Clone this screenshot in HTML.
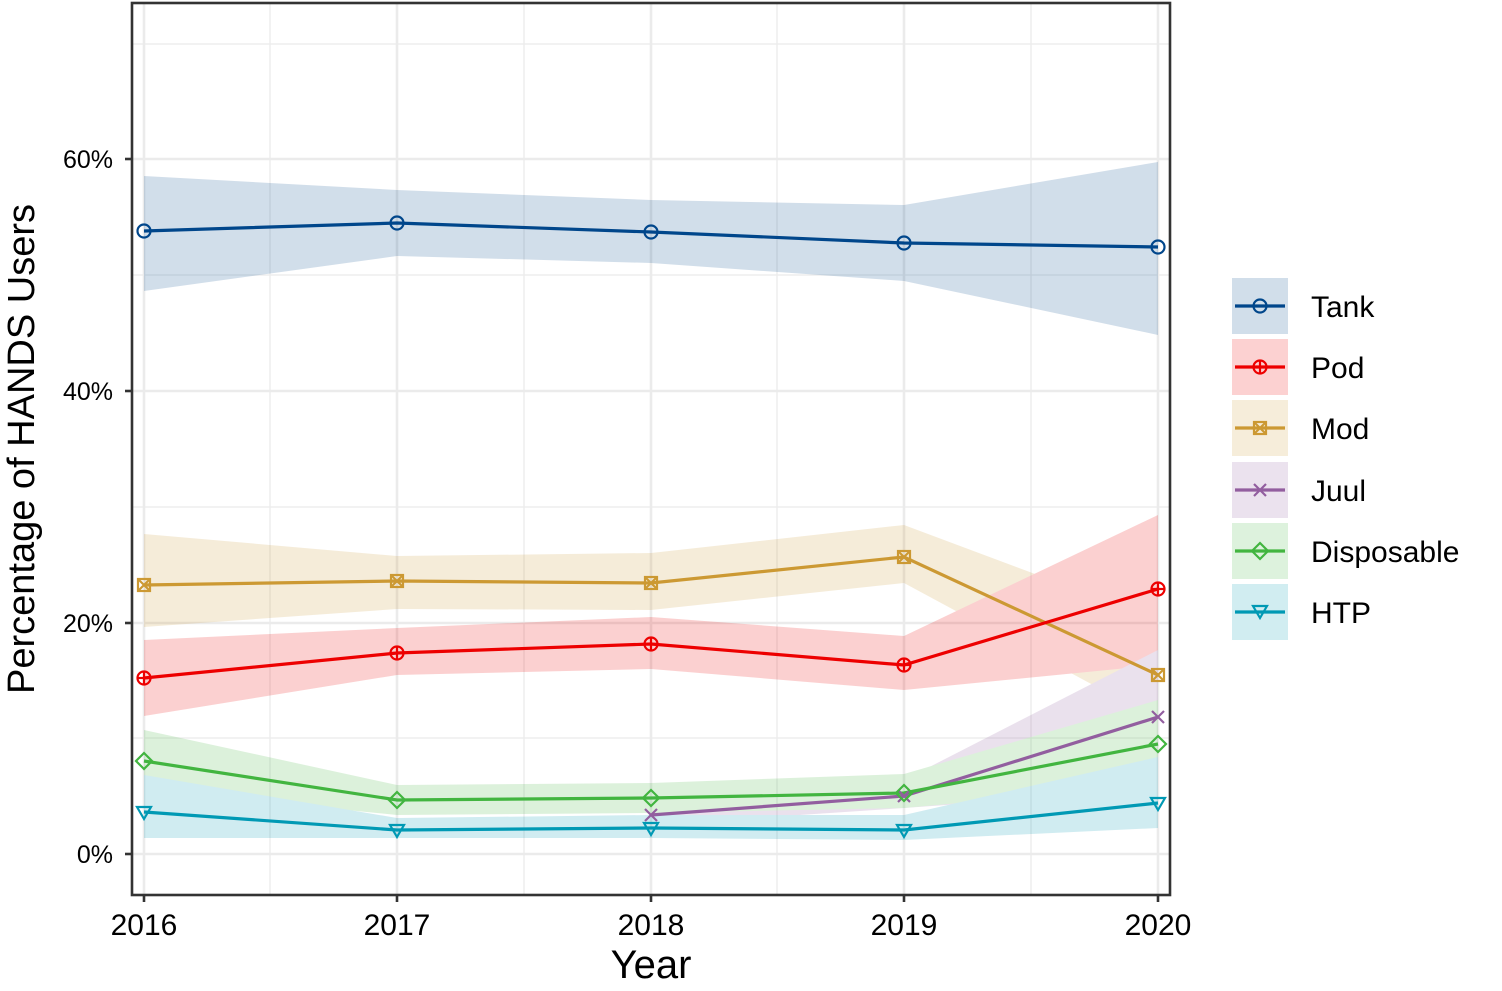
<!DOCTYPE html>
<html><head><meta charset="utf-8"><style>
html,body{margin:0;padding:0;background:#fff;}
svg{display:block;font-family:"Liberation Sans",Arial,sans-serif;}
</style></head><body>
<svg width="1502" height="991" viewBox="0 0 1502 991" xmlns="http://www.w3.org/2000/svg">
<rect width="1502" height="991" fill="#fff"/>
<g stroke="#ebebeb" stroke-width="1.3">
<line x1="132" x2="1170" y1="738" y2="738"/><line x1="132" x2="1170" y1="507" y2="507"/>
<line x1="132" x2="1170" y1="275" y2="275"/><line x1="132" x2="1170" y1="44" y2="44"/>
<line y1="3" y2="895" x1="270" x2="270"/><line y1="3" y2="895" x1="524" x2="524"/>
<line y1="3" y2="895" x1="777" x2="777"/><line y1="3" y2="895" x1="1031" x2="1031"/>
</g>
<g stroke="#ebebeb" stroke-width="2.6">
<line x1="132" x2="1170" y1="854" y2="854"/><line x1="132" x2="1170" y1="623" y2="623"/>
<line x1="132" x2="1170" y1="391" y2="391"/><line x1="132" x2="1170" y1="159" y2="159"/>
<line y1="3" y2="895" x1="144" x2="144"/><line y1="3" y2="895" x1="397" x2="397"/>
<line y1="3" y2="895" x1="651" x2="651"/><line y1="3" y2="895" x1="904" x2="904"/>
<line y1="3" y2="895" x1="1158" x2="1158"/>
</g>
<g opacity="0.18">
<polygon fill="#00468B" points="144,176 397,190 651,200 904,205 1158,162 1158,335 904,281 651,263 397,256 144,291"/>
<polygon fill="#CC9933" points="144,534 397,556 651,553 904,525 1158,620 1158,720 904,583 651,610 397,609 144,627"/>
<polygon fill="#ED0000" points="144,640 397,628 651,617 904,636 1158,515 1158,665 904,690 651,669 397,675 144,716"/>
<polygon fill="#925E9F" points="651,805 904,780 1158,650 1158,790 904,808 651,825"/>
<polygon fill="#42B540" points="144,730 397,785 651,783 904,774 1158,700 1158,785 904,808 651,813 397,815 144,790"/>
<polygon fill="#0099B4" points="144,775 397,818 651,815 904,815 1158,757 1158,828 904,840 651,838 397,838 144,838"/>
</g>
<g fill="none" stroke-width="3.2">
<polyline stroke="#00468B" points="144,231 397,223 651,232 904,243 1158,247"/>
<polyline stroke="#CC9933" points="144,585 397,581 651,583 904,557 1158,675"/>
<polyline stroke="#ED0000" points="144,678 397,653 651,644 904,665 1158,589"/>
<polyline stroke="#925E9F" points="651,815 904,796 1158,717"/>
<polyline stroke="#42B540" points="144,761 397,800 651,798 904,793 1158,744"/>
<polyline stroke="#0099B4" points="144,812 397,830 651,828 904,830 1158,803"/>
</g>
<g fill="none" stroke-width="2.2">
<g stroke="#00468B"><circle cx="144" cy="231" r="6.5"/><circle cx="397" cy="223" r="6.5"/><circle cx="651" cy="232" r="6.5"/><circle cx="904" cy="243" r="6.5"/><circle cx="1158" cy="247" r="6.5"/></g>
<g stroke="#ED0000"><circle cx="144" cy="678" r="6.5"/><circle cx="397" cy="653" r="6.5"/><circle cx="651" cy="644" r="6.5"/><circle cx="904" cy="665" r="6.5"/><circle cx="1158" cy="589" r="6.5"/>
<path d="M137.5 678h13M144 671.5v13M390.5 653h13M397 646.5v13M644.5 644h13M651 637.5v13M897.5 665h13M904 658.5v13M1151.5 589h13M1158 582.5v13"/></g>
<g stroke="#CC9933"><rect x="138" y="579" width="12" height="12"/><rect x="391" y="575" width="12" height="12"/><rect x="645" y="577" width="12" height="12"/><rect x="898" y="551" width="12" height="12"/><rect x="1152" y="669" width="12" height="12"/>
<path d="M138 579l12 12M150 579l-12 12M391 575l12 12M403 575l-12 12M645 577l12 12M657 577l-12 12M898 551l12 12M910 551l-12 12M1152 669l12 12M1164 669l-12 12"/></g>
<g stroke="#925E9F"><path d="M645 809l12 12M657 809l-12 12M898 790l12 12M910 790l-12 12M1152 711l12 12M1164 711l-12 12"/></g>
<g stroke="#42B540"><path d="M144 753l8 8-8 8-8-8zM397 792l8 8-8 8-8-8zM651 790l8 8-8 8-8-8zM904 785l8 8-8 8-8-8zM1158 736l8 8-8 8-8-8z"/></g>
<g stroke="#0099B4"><path d="M137 807h14l-7 12zM390 825h14l-7 12zM644 823h14l-7 12zM897 825h14l-7 12zM1151 798h14l-7 12z"/></g>
</g>
<rect x="132" y="3" width="1038" height="892" fill="none" stroke="#333" stroke-width="2.6"/>
<g stroke="#333" stroke-width="2.6">
<line x1="125" x2="132" y1="854" y2="854"/><line x1="125" x2="132" y1="623" y2="623"/><line x1="125" x2="132" y1="391" y2="391"/><line x1="125" x2="132" y1="159" y2="159"/>
<line y1="895" y2="902" x1="144" x2="144"/><line y1="895" y2="902" x1="397" x2="397"/><line y1="895" y2="902" x1="651" x2="651"/><line y1="895" y2="902" x1="904" x2="904"/><line y1="895" y2="902" x1="1158" x2="1158"/>
</g>
<g font-size="25" fill="#000" text-anchor="end">
<text x="113" y="863">0%</text><text x="113" y="632">20%</text><text x="113" y="400">40%</text><text x="113" y="168">60%</text>
</g>
<g font-size="30" fill="#000" text-anchor="middle">
<text x="144" y="935">2016</text><text x="397" y="935">2017</text><text x="651" y="935">2018</text><text x="904" y="935">2019</text><text x="1158" y="935">2020</text>
</g>
<text x="651" y="978" font-size="40" text-anchor="middle" fill="#000">Year</text>
<text transform="translate(34,449) rotate(-90)" font-size="38" text-anchor="middle" fill="#000">Percentage of HANDS Users</text>
<g>
<rect x="1232" y="278" width="56" height="56" fill="#00468B" opacity="0.18"/>
<rect x="1232" y="339" width="56" height="56" fill="#ED0000" opacity="0.18"/>
<rect x="1232" y="400" width="56" height="56" fill="#CC9933" opacity="0.18"/>
<rect x="1232" y="462" width="56" height="56" fill="#925E9F" opacity="0.18"/>
<rect x="1232" y="523" width="56" height="56" fill="#42B540" opacity="0.18"/>
<rect x="1232" y="584" width="56" height="56" fill="#0099B4" opacity="0.18"/>
<g stroke-width="3.2" fill="none">
<line x1="1235" x2="1285" y1="306" y2="306" stroke="#00468B"/>
<line x1="1235" x2="1285" y1="367" y2="367" stroke="#ED0000"/>
<line x1="1235" x2="1285" y1="428" y2="428" stroke="#CC9933"/>
<line x1="1235" x2="1285" y1="490" y2="490" stroke="#925E9F"/>
<line x1="1235" x2="1285" y1="551" y2="551" stroke="#42B540"/>
<line x1="1235" x2="1285" y1="612" y2="612" stroke="#0099B4"/>
</g>
<g stroke-width="2.2" fill="none">
<circle cx="1260" cy="306" r="6.5" stroke="#00468B"/>
<circle cx="1260" cy="367" r="6.5" stroke="#ED0000"/><path d="M1260 360.5v13" stroke="#ED0000"/>
<rect x="1254" y="422" width="12" height="12" stroke="#CC9933"/><path d="M1254 422l12 12M1266 422l-12 12" stroke="#CC9933"/>
<path d="M1254 484l12 12M1266 484l-12 12" stroke="#925E9F"/>
<path d="M1260 543l8 8-8 8-8-8z" stroke="#42B540"/>
<path d="M1253 606h14l-7 12z" stroke="#0099B4"/>
</g>
<g font-size="30" fill="#000">
<text x="1311" y="317">Tank</text><text x="1311" y="378">Pod</text><text x="1311" y="439">Mod</text>
<text x="1311" y="501">Juul</text><text x="1311" y="562">Disposable</text><text x="1311" y="623">HTP</text>
</g>
</g>
</svg>
</body></html>
